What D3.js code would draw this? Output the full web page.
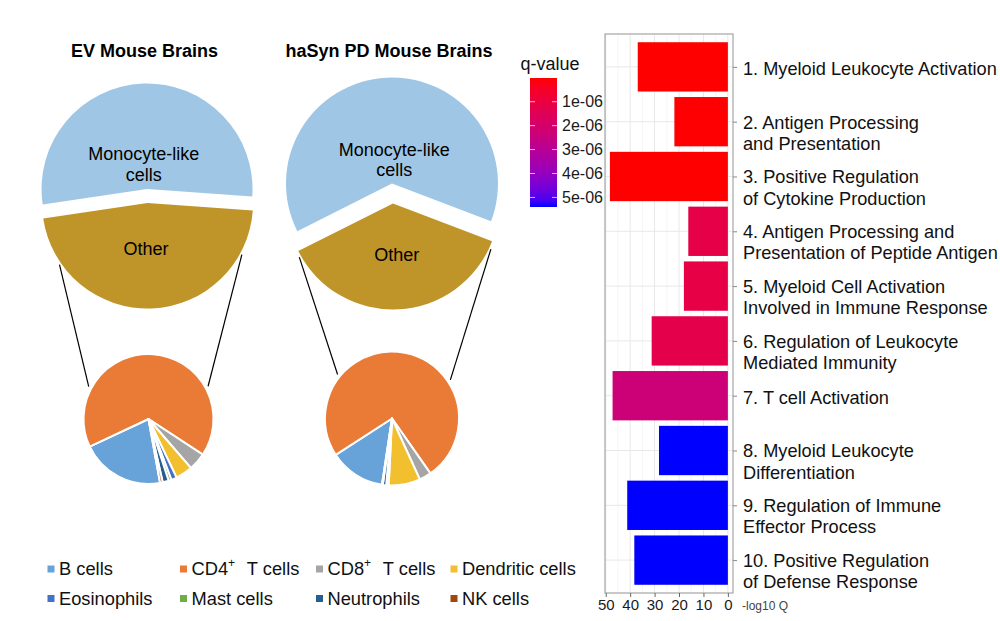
<!DOCTYPE html>
<html><head><meta charset="utf-8">
<script src="https://cdn.jsdelivr.net/npm/d3@7"></script>
<style>
body{margin:0;background:#fff}
svg{display:block}
text{font-family:"Liberation Sans",Arial,Helvetica,sans-serif}
</style>
</head><body>
<svg id="c" width="1000" height="621"></svg>
<script>
// ---------- DATA ----------
const groups = ["EV Mouse Brains", "haSyn PD Mouse Brains"];
const topCategories = ["Monocyte-like", "cells", "Other"];
const evTop = [53.5, 46.5];        // Monocyte-like cells, Other (%)
const hasynTop = [63.2, 36.8];
const cellTypes = ["B cells", "CD4+ T cells", "CD8+ T cells", "Dendritic cells",
                   "Eosinophils", "Mast cells", "Neutrophils", "NK cells"];
const evCells = [20.9, 66.2, 4.4, 4.25, 1.4, 0.7, 1.5, 0.65];
const hasynCells = [13.5, 74.4, 2.9, 7.6, 0.4, 0.2, 0.8, 0.2];
const cellColors = ["#67a3d8", "#e97b36", "#a5a5a5", "#f2c02f",
                    "#4472c4", "#70ad47", "#255e91", "#9e480e"];
const topColors = ["#a0c6e5", "#bf9428"];

const terms = [
  ["1. Myeloid Leukocyte Activation"],
  ["2. Antigen Processing", "and Presentation"],
  ["3. Positive Regulation", "of Cytokine Production"],
  ["4. Antigen Processing and", "Presentation of Peptide Antigen"],
  ["5. Myeloid Cell Activation", "Involved in Immune Response"],
  ["6. Regulation of Leukocyte", "Mediated Immunity"],
  ["7. T cell Activation"],
  ["8. Myeloid Leukocyte", "Differentiation"],
  ["9. Regulation of Immune", "Effector Process"],
  ["10. Positive Regulation", "of Defense Response"]
];
const negLogQ = [36.9, 21.9, 48.3, 16.2, 18.0, 31.2, 47.2, 28.2, 41.2, 38.3];
const qValues = [1.0e-08, 3.0e-08, 2.0e-08, 1.2e-06, 1.15e-06, 1.25e-06, 2.3e-06, 5.4e-06, 5.4e-06, 5.4e-06];
const qTicks = [1e-06, 2e-06, 3e-06, 4e-06, 5e-06];
const qTickLabels = ["1e-06", "2e-06", "3e-06", "4e-06", "5e-06"];
const xTicks = [0, 10, 20, 30, 40, 50];
const xMinorTicks = [5, 15, 25, 35, 45];
const xTitle = "-log10 Q";

// ---------- DRAW ----------
const svg = d3.select("#c");
const rad = d => d * Math.PI / 180;

const pieLayouts = [
  {title: groups[0], tx: 144.5, top: evTop, cells: evCells,
   cx: 147.3, cy: 196, r: 105.5, explode: 7, start: -98.5,
   monoLbl: [-3.6, -42.7, -21.7], otherLbl: [-1.3, 52.3],
   bx: 148.5, by: 419, br: 65, bstart: 169.7,
   lines: [[235, 298.5], [118.7, 61.2]]},
  {title: groups[1], tx: 389, top: hasynTop, cells: hasynCells,
   cx: 392.5, cy: 193.5, r: 106, explode: 10, start: -116.7,
   monoLbl: [1.8, -44.2, -23.5], otherLbl: [4.2, 61.5],
   bx: 392, by: 418.5, br: 67, bstart: 188.6,
   lines: [[240.2, -51], [115, 56.5]]}
];

pieLayouts.forEach(p => {
  svg.append("text").attr("x", p.tx).attr("y", 50.7).attr("dy", "0.35em")
    .attr("text-anchor", "middle").attr("font-size", 18).attr("font-weight", "bold")
    .attr("fill", "#000").text(p.title);

  const a0 = rad(p.start);
  const arcsTop = d3.pie().sort(null).startAngle(a0).endAngle(a0 + 2 * Math.PI)(p.top);
  const arcGen = d3.arc().innerRadius(0).outerRadius(p.r);
  const centers = arcsTop.map(a => {
    const m = (a.startAngle + a.endAngle) / 2;
    return [p.cx + p.explode * Math.sin(m), p.cy - p.explode * Math.cos(m)];
  });
  arcsTop.forEach((a, i) => {
    svg.append("path").attr("d", arcGen(a))
      .attr("transform", `translate(${centers[i][0]},${centers[i][1]})`)
      .attr("fill", topColors[i]);
  });
  svg.append("text").attr("x", p.cx + p.monoLbl[0]).attr("y", p.cy + p.monoLbl[1]).attr("dy", "0.35em")
    .attr("text-anchor", "middle").attr("font-size", 18).text(topCategories[0]);
  svg.append("text").attr("x", p.cx + p.monoLbl[0]).attr("y", p.cy + p.monoLbl[2]).attr("dy", "0.35em")
    .attr("text-anchor", "middle").attr("font-size", 18).text(topCategories[1]);
  svg.append("text").attr("x", p.cx + p.otherLbl[0]).attr("y", p.cy + p.otherLbl[1]).attr("dy", "0.35em")
    .attr("text-anchor", "middle").attr("font-size", 18).text(topCategories[2]);

  const oc = centers[1];
  p.lines.forEach(([aTop, aBot]) => {
    const x1 = oc[0] + (p.r + 2) * Math.sin(rad(aTop));
    const y1 = oc[1] - (p.r + 2) * Math.cos(rad(aTop));
    const x2 = p.bx + (p.br + 3) * Math.sin(rad(aBot));
    const y2 = p.by - (p.br + 3) * Math.cos(rad(aBot));
    svg.append("line").attr("x1", x1).attr("y1", y1).attr("x2", x2).attr("y2", y2)
      .attr("stroke", "#000").attr("stroke-width", 1.2);
  });

  const b0 = rad(p.bstart);
  const arcsBot = d3.pie().sort(null).startAngle(b0).endAngle(b0 + 2 * Math.PI)(p.cells);
  const arcB = d3.arc().innerRadius(0).outerRadius(p.br);
  svg.append("g").attr("transform", `translate(${p.bx},${p.by})`)
    .selectAll("path").data(arcsBot).join("path")
    .attr("d", arcB).attr("fill", (d, i) => cellColors[i])
    .attr("stroke", "#fff").attr("stroke-width", 2).attr("stroke-linejoin", "round");
});

// legend
const legCols = [47.5, 180, 316, 450.5];
const legRows = [569, 598.5];
cellTypes.forEach((name, i) => {
  const cx = legCols[i % 4], cy = legRows[Math.floor(i / 4)];
  svg.append("rect").attr("x", cx).attr("y", cy - 3.5).attr("width", 7).attr("height", 7)
    .attr("fill", cellColors[i]);
  const t = svg.append("text").attr("x", cx + 11.5).attr("y", cy).attr("dy", "0.35em")
    .attr("font-size", 18.3).attr("fill", "#111");
  const m = name.match(/^(CD\d)\+ (.*)$/);
  if (m) {
    t.append("tspan").text(m[1]);
    t.append("tspan").attr("font-size", 12).attr("dy", -8).text("+");
    t.append("tspan").attr("dy", 8).attr("dx", 7).text(" " + m[2]);
  } else t.text(name);
});

// ---------- bar chart ----------
const panel = {l: 605, r: 733, t: 34, b: 593};
const x = d3.scaleLinear().domain([50.3, -2.1]).range([panel.l, panel.r]);
const y = d3.scalePoint().domain(terms.map(d => d[0])).range([panel.t, panel.b]).padding(0.6);
const step = y.step();
const qExt = d3.extent(qValues);
const color = d3.scaleLinear().domain(qExt).range(["red", "blue"]).interpolate(d3.interpolateLab);

const g = svg.append("g");
g.append("rect").attr("x", panel.l).attr("y", panel.t).attr("width", panel.r - panel.l)
  .attr("height", panel.b - panel.t).attr("fill", "#fff");
g.selectAll(".minor").data(xMinorTicks).join("line")
  .attr("x1", d => x(d)).attr("x2", d => x(d)).attr("y1", panel.t).attr("y2", panel.b)
  .attr("stroke", "#f3f3f3").attr("stroke-width", 0.8);
g.selectAll(".major").data(xTicks).join("line")
  .attr("x1", d => x(d)).attr("x2", d => x(d)).attr("y1", panel.t).attr("y2", panel.b)
  .attr("stroke", "#e8e8e8").attr("stroke-width", 1);
g.selectAll(".hgrid").data(terms).join("line")
  .attr("x1", panel.l).attr("x2", panel.r).attr("y1", d => y(d[0])).attr("y2", d => y(d[0]))
  .attr("stroke", "#e8e8e8").attr("stroke-width", 1);

g.selectAll(".bar").data(terms).join("rect")
  .attr("x", (d, i) => x(negLogQ[i]))
  .attr("width", (d, i) => x(0) - x(negLogQ[i]))
  .attr("y", d => y(d[0]) - step * 0.45)
  .attr("height", step * 0.9)
  .attr("fill", (d, i) => color(qValues[i]));

g.append("rect").attr("x", panel.l).attr("y", panel.t).attr("width", panel.r - panel.l)
  .attr("height", panel.b - panel.t).attr("fill", "none").attr("stroke", "#a6a6a6").attr("stroke-width", 1.2);

// bottom axis
const xAxis = d3.axisBottom(x).tickValues(xTicks).tickSize(4).tickPadding(2).tickFormat(d3.format("d"));
const ax = svg.append("g").attr("transform", `translate(0,${panel.b})`).call(xAxis);
ax.select(".domain").remove();
ax.selectAll(".tick line").attr("stroke", "#666");
ax.selectAll(".tick text").attr("font-size", 15).attr("fill", "#1a1a1a")
  .attr("font-family", '"Liberation Sans",Arial,sans-serif');

// axis title (moved beside the axis so that it stays readable inside the frame)
svg.append("text").attr("x", 742).attr("y", 606).attr("dy", "0.35em").attr("text-anchor", "start")
  .attr("font-size", 12).attr("fill", "#444").text(xTitle);

// right axis with labels
const yAxis = d3.axisRight(y).tickSize(4).tickFormat("");
const ay = svg.append("g").attr("transform", `translate(${panel.r},0)`).call(yAxis);
ay.select(".domain").remove();
ay.selectAll(".tick line").attr("stroke", "#888");

terms.forEach(lines => {
  const off = lines.length > 1 ? 0.5 : 2;
  const t = svg.append("text").attr("x", 743).attr("y", y(lines[0]) + off)
    .attr("font-size", 18.2).attr("fill", "#111");
  lines.forEach((ln, j) => {
    t.append("tspan").attr("x", 743).attr("dy", j === 0 ? "0.35em" : 21.3).text(ln);
  });
});

// colour bar legend
const cb = {x: 530, w: 27, t: 78, b: 207};
const yq = d3.scaleLinear().domain(qExt).range([cb.t, cb.b]);
const defs = svg.append("defs");
const grad = defs.append("linearGradient").attr("id", "qgrad")
  .attr("x1", 0).attr("y1", 0).attr("x2", 0).attr("y2", 1);
d3.range(0, 1.0001, 0.05).forEach(s => {
  grad.append("stop").attr("offset", s)
    .attr("stop-color", color(qExt[0] + s * (qExt[1] - qExt[0])));
});
svg.append("rect").attr("x", cb.x).attr("y", cb.t).attr("width", cb.w).attr("height", cb.b - cb.t)
  .attr("fill", "url(#qgrad)");
qTicks.forEach((q, i) => {
  const yy = yq(q);
  svg.append("line").attr("x1", cb.x).attr("x2", cb.x + 5).attr("y1", yy).attr("y2", yy)
    .attr("stroke", "#fff").attr("stroke-opacity", 0.7).attr("stroke-width", 1);
  svg.append("line").attr("x1", cb.x + cb.w - 5).attr("x2", cb.x + cb.w).attr("y1", yy).attr("y2", yy)
    .attr("stroke", "#fff").attr("stroke-opacity", 0.7).attr("stroke-width", 1);
  svg.append("text").attr("x", 562).attr("y", yy).attr("dy", "0.35em")
    .attr("font-size", 16).attr("fill", "#1a1a1a").text(qTickLabels[i]);
});
svg.append("text").attr("x", 520.5).attr("y", 63.3).attr("dy", "0.35em")
  .attr("font-size", 18).attr("fill", "#111").text("q-value");
</script>
</body></html>
